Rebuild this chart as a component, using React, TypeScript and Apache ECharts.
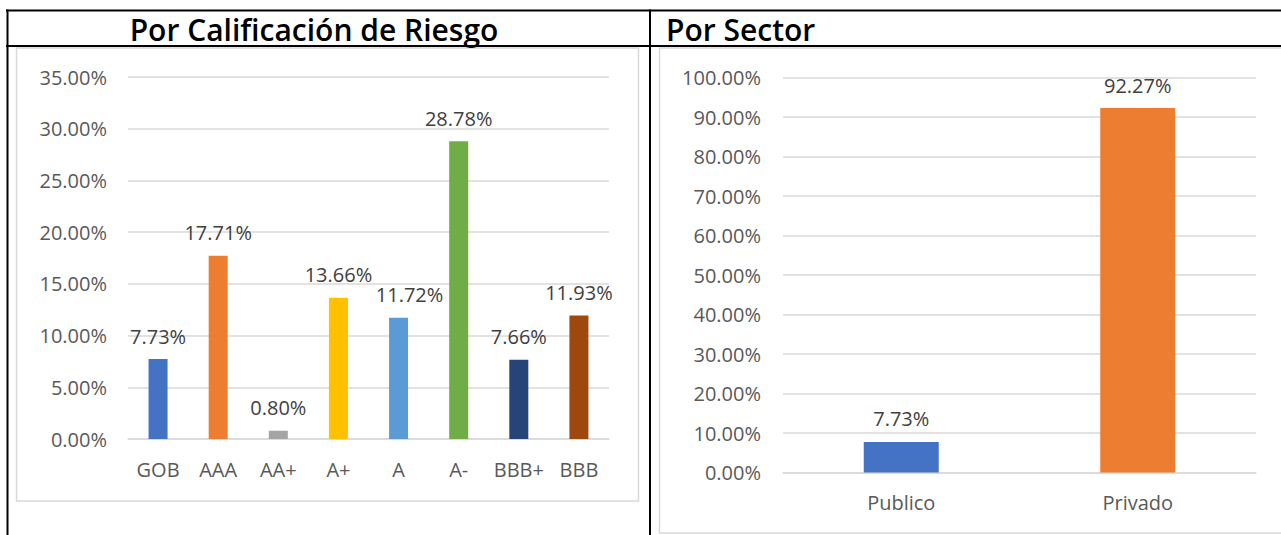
import React, { useEffect, useRef } from "react";
import * as echarts from "echarts";

const ratingTitle = "Por Calificación de Riesgo";
const sectorTitle = "Por Sector";
const ratingCategories = ["GOB", "AAA", "AA+", "A+", "A", "A-", "BBB+", "BBB"];
const ratingValues = [7.73, 17.71, 0.8, 13.66, 11.72, 28.78, 7.66, 11.93];
const ratingColors = ["#4472C4", "#ED7D31", "#A5A5A5", "#FFC000", "#5B9BD5", "#70AD47", "#264478", "#9E480E"];
const ratingAxisMax = 35;
const ratingAxisStep = 5;
const sectorCategories = ["Publico", "Privado"];
const sectorValues = [7.73, 92.27];
const sectorColors = ["#4472C4", "#ED7D31"];
const sectorAxisMax = 100;
const sectorAxisStep = 10;

const FONT = "'Open Sans', 'Noto Sans', sans-serif";
const pct = (v: number) => `${v.toFixed(2)}%`;

export default function App() {
  const ref = useRef<HTMLDivElement>(null);
  useEffect(() => {
    if (!ref.current) return;
    const chart = echarts.init(ref.current, undefined, { renderer: "svg" });
    const axisLabel = { color: "#595959", fontSize: 20, fontFamily: FONT };
    const dataLabel = {
      show: true,
      position: "top",
      distance: 13,
      color: "#404040",
      fontSize: 20,
      fontFamily: FONT,
      formatter: (p: any) => pct(p.value),
    };
    chart.setOption({
      animation: false,
      backgroundColor: "#ffffff",
      grid: [
        { left: 128, top: 77, width: 481, height: 362 },
        { left: 783, top: 77.5, width: 473, height: 395 },
      ],
      xAxis: [
        {
          type: "category",
          gridIndex: 0,
          data: ratingCategories,
          axisTick: { show: false },
          axisLine: { show: true, lineStyle: { color: "#d9d9d9", width: 1.5 } },
          axisLabel: { ...axisLabel, margin: 20, interval: 0 },
        },
        {
          type: "category",
          gridIndex: 1,
          data: sectorCategories,
          axisTick: { show: false },
          axisLine: { show: true, lineStyle: { color: "#d9d9d9", width: 1.5 } },
          axisLabel: { ...axisLabel, margin: 20, interval: 0 },
        },
      ],
      yAxis: [
        {
          type: "value",
          gridIndex: 0,
          min: 0,
          max: ratingAxisMax,
          interval: ratingAxisStep,
          axisLine: { show: false },
          axisTick: { show: false },
          splitLine: { lineStyle: { color: "#d9d9d9", width: 1.5 } },
          axisLabel: { ...axisLabel, margin: 21, formatter: (v: number) => pct(v) },
        },
        {
          type: "value",
          gridIndex: 1,
          min: 0,
          max: sectorAxisMax,
          interval: sectorAxisStep,
          axisLine: { show: false },
          axisTick: { show: false },
          splitLine: { lineStyle: { color: "#d9d9d9", width: 1.5 } },
          axisLabel: { ...axisLabel, margin: 22, formatter: (v: number) => pct(v) },
        },
      ],
      series: [
        {
          type: "bar",
          xAxisIndex: 0,
          yAxisIndex: 0,
          barWidth: 19,
          data: ratingValues.map((v, i) => ({
            value: v,
            itemStyle: { color: ratingColors[i] },
            label: ratingCategories[i] === "A" ? { offset: [11, 0] } : undefined,
          })),
          label: dataLabel,
        },
        {
          type: "bar",
          xAxisIndex: 1,
          yAxisIndex: 1,
          barWidth: 75,
          data: sectorValues.map((v, i) => ({ value: v, itemStyle: { color: sectorColors[i] } })),
          label: dataLabel,
        },
      ],
      graphic: [
        { type: "rect", shape: { x: 16.5, y: 48, width: 622, height: 453 }, style: { fill: "none", stroke: "#d9d9d9", lineWidth: 1.5 } },
        { type: "rect", shape: { x: 659.5, y: 48, width: 700, height: 485 }, style: { fill: "none", stroke: "#d9d9d9", lineWidth: 1.5 } },
        { type: "line", shape: { x1: 6, y1: 10.5, x2: 1281, y2: 10.5 }, style: { stroke: "#000", lineWidth: 2 } },
        { type: "line", shape: { x1: 6, y1: 46, x2: 1281, y2: 46 }, style: { stroke: "#000", lineWidth: 2 } },
        { type: "line", shape: { x1: 7.5, y1: 9.5, x2: 7.5, y2: 535 }, style: { stroke: "#000", lineWidth: 2 } },
        { type: "line", shape: { x1: 650, y1: 9.5, x2: 650, y2: 535 }, style: { stroke: "#000", lineWidth: 2 } },
        {
          type: "text",
          x: 314,
          y: 29,
          style: { text: ratingTitle, font: `600 30px ${FONT}`, fill: "#000", textAlign: "center", textVerticalAlign: "middle" },
        },
        {
          type: "text",
          x: 666,
          y: 29,
          style: { text: sectorTitle, font: `600 30px ${FONT}`, fill: "#000", textAlign: "left", textVerticalAlign: "middle" },
        },
      ],
    });
    return () => chart.dispose();
  }, []);
  return <div ref={ref} style={{ position: "absolute", left: 0, top: 0, width: 1281, height: 535 }} />;
}
